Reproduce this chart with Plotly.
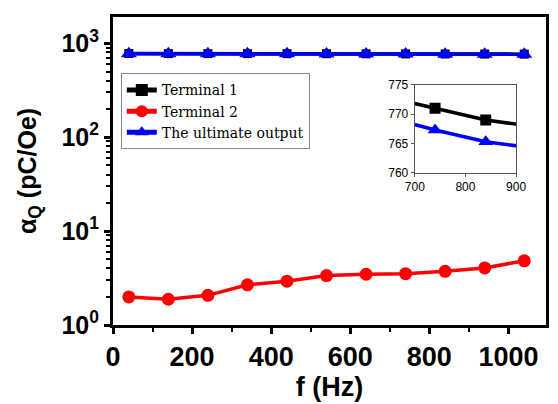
import plotly.graph_objects as go

freq = [40, 140, 240, 340, 440, 540, 640, 740, 840, 940, 1040]
terminal1 = [778, 777, 776.5, 776, 775.5, 774.5, 773, 771, 769, 767.8, 766.5]
terminal2 = [1.99, 1.88, 2.07, 2.68, 2.93, 3.36, 3.47, 3.52, 3.73, 4.05, 4.83]
ultimate = [775, 774, 773.5, 773, 772, 771, 769.6, 767.3, 765.3, 764.0, 763]

names = ["Terminal 1", "Terminal 2", "The ultimate output"]
colors = ["black", "red", "blue"]
symbols = ["square", "circle", "triangle-up"]
sizes = [9, 13, 14]
series = [terminal1, terminal2, ultimate]

y_tickvals = [1, 10, 100, 1000]
y_ticktext = ["10<sup>0</sup>", "10<sup>1</sup>", "10<sup>2</sup>", "10<sup>3</sup>"]
y_minor = [m * 10 ** e for e in range(0, 4) for m in range(2, 10)]
x_tickvals = [0, 200, 400, 600, 800, 1000]
inset_x_ticks = [700, 800, 900]
inset_y_ticks = [760, 765, 770, 775]

FONT = "Liberation Sans, Arial"

fig = go.Figure()
for n, c, s, sz, ys in zip(names, colors, symbols, sizes, series):
    fig.add_trace(go.Scatter(x=freq, y=ys, name=n, mode="lines+markers",
                             line=dict(color=c, width=3.5),
                             marker=dict(symbol=s, size=sz, color=c),
                             xaxis="x", yaxis="y"))
for n, c, s, ys in zip(names, colors, symbols, series):
    if n == "Terminal 2":
        continue
    fig.add_trace(go.Scatter(x=freq, y=ys, name=n, mode="lines+markers", showlegend=False,
                             line=dict(color=c, width=3.5),
                             marker=dict(symbol=s, size=11 if s == "square" else 13, color=c),
                             xaxis="x2", yaxis="y2"))

fig.update_layout(
    width=550, height=396,
    margin=dict(l=105, r=2, t=5, b=79),
    paper_bgcolor="white", plot_bgcolor="white",
    font=dict(family=FONT, color="black"),
    xaxis=dict(domain=[0, 1], range=[0, 1095], tickvals=x_tickvals, automargin=False,
               ticks="outside", ticklen=6, tickwidth=3, tickcolor="black",
               minor=dict(dtick=100, ticks="outside", ticklen=4, tickwidth=2, tickcolor="black"),
               showline=True, linewidth=3, linecolor="black", mirror=True,
               showgrid=False, zeroline=False,
               tickfont=dict(family=FONT, size=27, color="black", weight="bold"),
               title=dict(text="<b>f (Hz)</b>", font=dict(family=FONT, size=27),
                          standoff=4)),
    yaxis=dict(domain=[0, 1], type="log", range=[0, 3.28], tickvals=y_tickvals, ticktext=y_ticktext,
               automargin=False,
               ticks="outside", ticklen=6, tickwidth=3, tickcolor="black",
               minor=dict(tickvals=y_minor, ticks="outside", ticklen=4, tickwidth=2,
                          tickcolor="black", showgrid=False),
               showline=True, linewidth=3, linecolor="black", mirror=True,
               showgrid=False, zeroline=False,
               tickfont=dict(family=FONT, size=25, color="black", weight="bold"),
               title=dict(text="<b>α<sub>Q</sub> (pC/Oe)</b>",
                          font=dict(family=FONT, size=25), standoff=18)),
    xaxis2=dict(domain=[0.697, 0.931], anchor="y2", range=[700, 900], tickvals=inset_x_ticks,
                ticks="outside", ticklen=3, tickcolor="#555",
                showline=True, linewidth=1.2, linecolor="#555", mirror=True,
                showgrid=False, zeroline=False,
                tickfont=dict(family=FONT, size=12, color="black")),
    yaxis2=dict(domain=[0.494, 0.78], anchor="x2", range=[760, 775], tickvals=inset_y_ticks,
                ticks="outside", ticklen=3, tickcolor="#555",
                showline=True, linewidth=1.2, linecolor="#555", mirror=True,
                showgrid=False, zeroline=False,
                tickfont=dict(family=FONT, size=12, color="black")),
    legend=dict(x=0.018, y=0.817, xanchor="left", yanchor="top",
                bgcolor="white", bordercolor="#888", borderwidth=1,
                font=dict(family="DejaVu Serif", size=14, color="black"),
                tracegroupgap=0, itemsizing="constant"),
    showlegend=True,
)

fig.write_html("out.html")
